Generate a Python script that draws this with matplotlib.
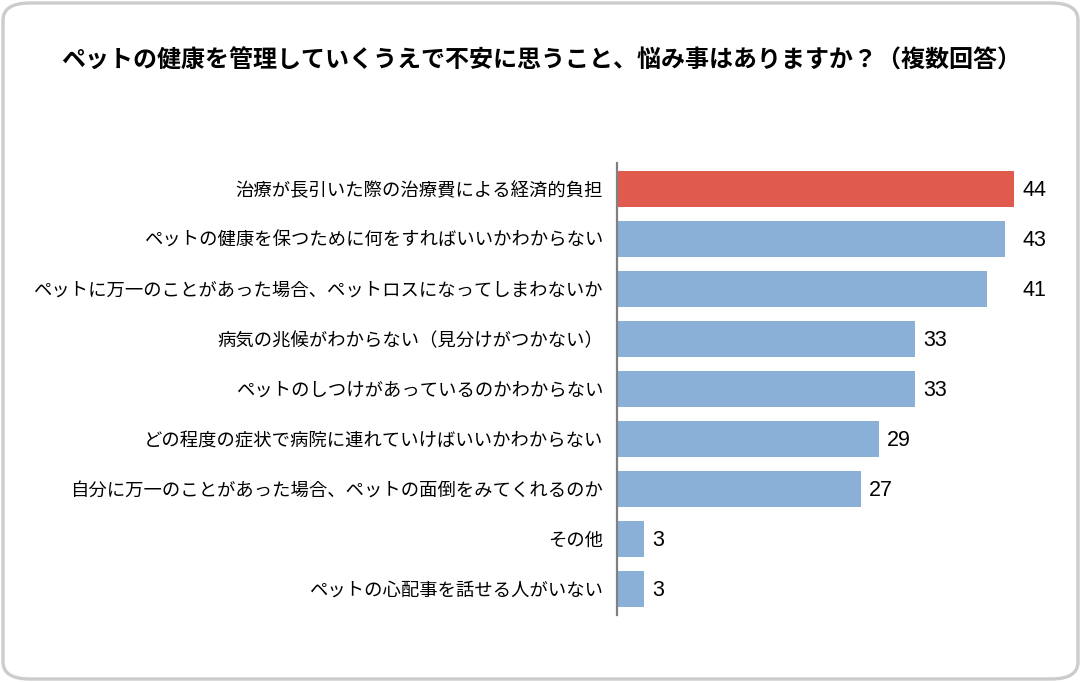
import matplotlib
matplotlib.use("Agg")
import matplotlib.pyplot as plt
from matplotlib.patches import FancyBboxPatch

plt.rcParams["font.family"] = ["Noto Sans CJK JP", "DejaVu Sans"]

title = "ペットの健康を管理していくうえで不安に思うこと、悩み事はありますか？（複数回答）"
categories = [
    "治療が長引いた際の治療費による経済的負担",
    "ペットの健康を保つために何をすればいいかわからない",
    "ペットに万一のことがあった場合、ペットロスになってしまわないか",
    "病気の兆候がわからない（見分けがつかない）",
    "ペットのしつけがあっているのかわからない",
    "どの程度の症状で病院に連れていけばいいかわからない",
    "自分に万一のことがあった場合、ペットの面倒をみてくれるのか",
    "その他",
    "ペットの心配事を話せる人がいない",
]
values = [44, 43, 41, 33, 33, 29, 27, 3, 3]
highlight = 0

red = "#E05A4E"
blue = "#8AB0D8"

W, H = 1081, 682
fig = plt.figure(figsize=(W / 100, H / 100), dpi=100)

# rounded frame around the whole picture
frame = FancyBboxPatch((3 / W, 3 / H), (W - 6) / W, (H - 6) / H,
                       boxstyle="round,pad=0,rounding_size=0.025",
                       transform=fig.transFigure, facecolor="none",
                       edgecolor="#cccccc", linewidth=2.4, zorder=5)
fig.patches.append(frame)

fig.text(541 / W, 1 - 61 / H, title, ha="center", va="center",
         fontsize=17.3, fontweight="bold")

ax = fig.add_axes([617 / W, 67 / H, (1062 - 617) / W, (615 - 163) / H])
ax.patch.set_alpha(0)
y = list(range(len(values)))
colors = [red if i == highlight else blue for i in y]
ax.barh(y, values, height=0.72, color=colors, zorder=2)
ax.set_ylim(len(values) - 0.48, -0.52)
ax.set_xlim(0, (1062 - 617) / 9.02)

for s in ["top", "right", "bottom"]:
    ax.spines[s].set_visible(False)
ax.spines["left"].set_color("#808080")
ax.spines["left"].set_linewidth(1.6)
ax.set_xticks([])
ax.set_yticks(y)
ax.set_yticklabels(categories, fontsize=13.2)
ax.tick_params(axis="y", length=0, pad=10)

# the long bars share one label column, as in the original
top = max(values)
for i, v in enumerate(values):
    x = top if v > 40 else v
    ax.annotate(str(v), (x, i), xytext=(6, -1), textcoords="offset points",
                ha="left", va="center", fontsize=15.5,
                family=["Liberation Sans", "DejaVu Sans"])

fig.savefig("out.png", dpi=100)
